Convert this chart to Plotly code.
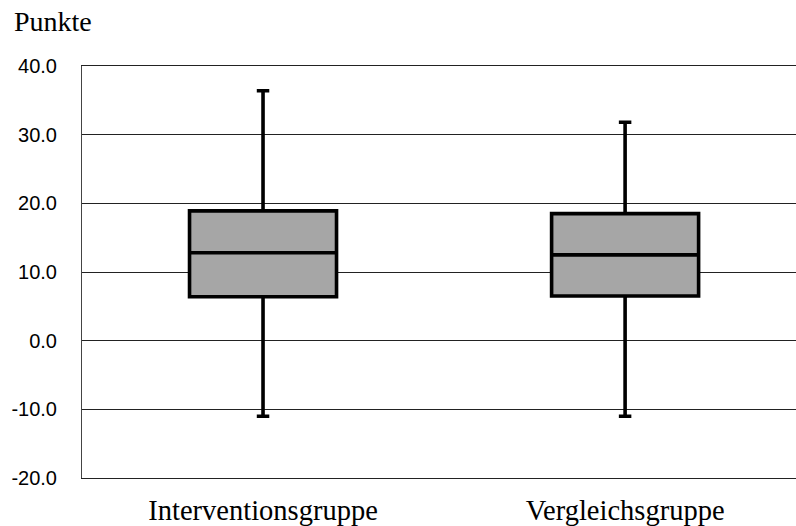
import plotly.graph_objects as go

categories = ["Interventionsgruppe", "Vergleichsgruppe"]
lower = [-11.0, -11.0]
q1 = [6.4, 6.5]
median = [12.8, 12.5]
q3 = [18.9, 18.5]
upper = [36.4, 31.8]
y_ticks = [-20, -10, 0, 10, 20, 30, 40]
y_tick_labels = ["-20.0", "-10.0", "0.0", "10.0", "20.0", "30.0", "40.0"]

fig = go.Figure()
fig.add_trace(go.Box(
    x=categories,
    q1=q1, median=median, q3=q3,
    lowerfence=lower, upperfence=upper,
    fillcolor="#a6a6a6",
    line=dict(color="black", width=3.6),
    width=0.406,
    whiskerwidth=0.085,
    boxpoints=False,
    hoverinfo="skip",
))

fig.update_layout(
    width=796, height=526,
    margin=dict(l=82, r=0, t=66, b=48),
    plot_bgcolor="white", paper_bgcolor="white",
    showlegend=False,
    xaxis=dict(
        range=[-0.5, 1.472],
        showgrid=False,
        showline=True,
        mirror=True,
        linecolor="#222222",
        linewidth=1,
        ticks="",
        tickfont=dict(family="Liberation Serif", size=28.5, color="black"),
        ticklabelstandoff=7,
    ),
    yaxis=dict(
        range=[-20, 40],
        tickvals=y_ticks,
        ticktext=y_tick_labels,
        showgrid=True,
        gridcolor="#222222",
        gridwidth=1,
        zeroline=False,
        showline=True,
        linecolor="#444444",
        linewidth=1,
        ticks="",
        tickfont=dict(family="Liberation Sans", size=20, color="black"),
        ticklabelstandoff=20,
    ),
    annotations=[dict(
        text="Punkte", xref="paper", yref="paper",
        x=0, xshift=-70, y=1.0, yshift=45, xanchor="left", yanchor="middle",
        showarrow=False,
        font=dict(family="Liberation Serif", size=28, color="black"),
    )],
)

fig.write_html("out.html", config={"displayModeBar": False},
               post_script="document.body.style.margin='0';")
